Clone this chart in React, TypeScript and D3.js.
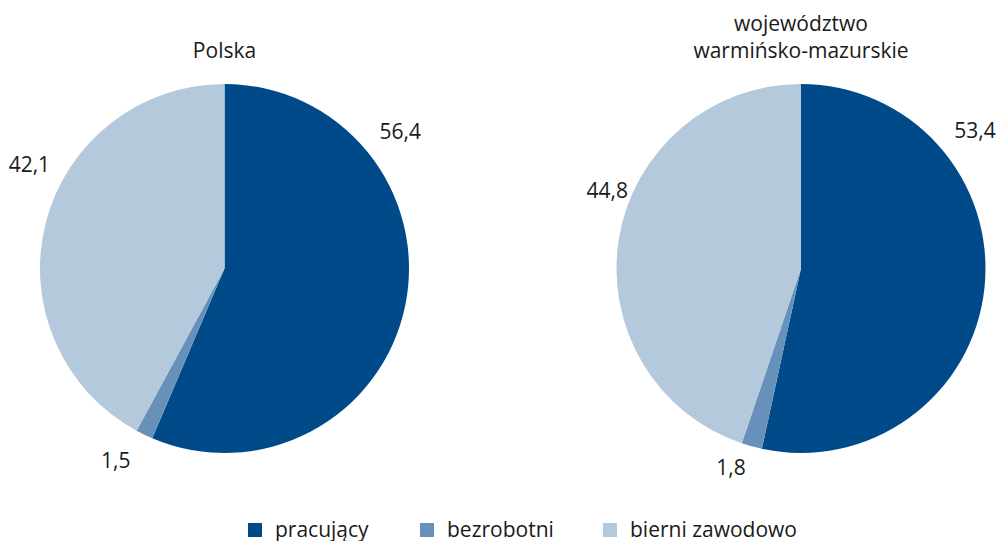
import React from "react";
import * as d3 from "d3";

// shares of population aged 15+ by economic activity (%)
const categories = ["pracujący", "bezrobotni", "bierni zawodowo"];
const polskaValues = [56.4, 1.5, 42.1];
const wmValues = [53.4, 1.8, 44.8];
const polskaTitle = ["Polska"];
const wmTitle = ["województwo", "warmińsko-mazurskie"];

const colors = ["#004a8a", "#6791b9", "#b4c9dc"];
const font = "'Open Sans', 'Noto Sans', sans-serif";
const fs = 21;

const W = 999;
const H = 541;
const R = 184.5;
const cy = 268.5;

// label angles (deg, clockwise from 12 o'clock) tuned by eye, like excel's best fit
function Pie({ cx, values, title, labelAngles, labelR }: any) {
  const pie = d3.pie<number>().sort(null).value((d) => d);
  const arc = d3.arc<d3.PieArcDatum<number>>().innerRadius(0).outerRadius(R);
  const arcs = pie(values);
  const fmt = (v: number) => v.toFixed(1).replace(".", ",");
  const titleBase = 58 - (title.length - 1) * 27;
  return (
    <g>
      {title.map((t: string, i: number) => (
        <text key={i} x={cx} y={titleBase + i * 27} textAnchor="middle" fontSize={fs} fill="#1a1a1a" fontFamily={font}>
          {t}
        </text>
      ))}
      <g transform={`translate(${cx},${cy})`}>
        {arcs.map((a, i) => (
          <path key={i} d={arc(a) || ""} fill={colors[i]} />
        ))}
        {arcs.map((a, i) => {
          const ang = (labelAngles[i] * Math.PI) / 180;
          const r = labelR[i];
          return (
            <text
              key={i}
              x={Math.sin(ang) * r}
              y={-Math.cos(ang) * r}
              dy="0.35em"
              textAnchor="middle"
              fontSize={fs}
              fill="#1a1a1a"
              fontFamily={font}
            >
              {fmt(a.data)}
            </text>
          );
        })}
      </g>
    </g>
  );
}

export default function App() {
  const legendX = d3.scaleOrdinal<string, number>().domain(categories).range([248, 420, 603]);
  return (
    <svg width={W} height={H} style={{ position: "absolute", left: 0, top: 0, background: "#fff" }}>
      <Pie cx={224.5} values={polskaValues} title={polskaTitle} labelAngles={[52, 209.5, 298]} labelR={[223, 221, 221]} />
      <Pie cx={801} values={wmValues} title={wmTitle} labelAngles={[51.6, 199.4, 292]} labelR={[222, 211, 209]} />
      {categories.map((c, i) => {
        const x = legendX(c);
        return (
          <g key={c}>
            <rect x={x} y={523} width={14} height={14} fill={colors[i]} />
            <text x={x + 27} y={537} fontSize={fs} fill="#1a1a1a" fontFamily={font}>
              {c}
            </text>
          </g>
        );
      })}
    </svg>
  );
}
